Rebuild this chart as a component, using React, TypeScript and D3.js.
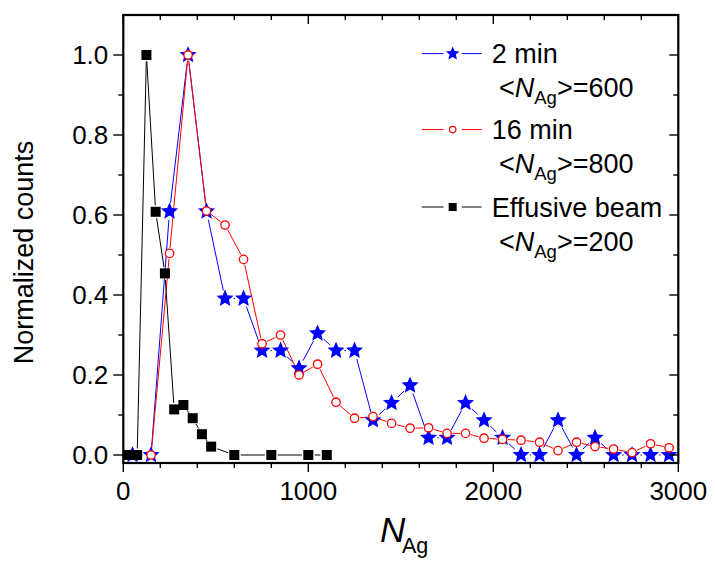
import React from "react";
import * as d3 from "d3";

const W = 715;
const H = 561;

// 2 min (blue stars)
const blueX = [50, 150, 250, 350, 450, 550, 650, 750, 850, 950, 1050, 1150, 1250, 1350, 1450, 1550, 1650, 1750, 1850, 1950, 2050, 2150, 2250, 2350, 2450, 2550, 2650, 2750, 2850, 2950];
const blueY = [0, 0, 0.609, 1.0, 0.609, 0.391, 0.391, 0.261, 0.261, 0.217, 0.304, 0.261, 0.261, 0.087, 0.13, 0.174, 0.043, 0.043, 0.13, 0.087, 0.043, 0, 0, 0.087, 0, 0.043, 0, 0, 0, 0];

// 16 min (red open circles)
const redX = [150, 250, 350, 450, 550, 650, 750, 850, 950, 1050, 1150, 1250, 1350, 1450, 1550, 1650, 1750, 1850, 1950, 2050, 2150, 2250, 2350, 2450, 2550, 2650, 2750, 2850, 2950];
const redY = [0, 0.504, 1.0, 0.61, 0.575, 0.489, 0.278, 0.3, 0.2, 0.227, 0.132, 0.092, 0.096, 0.079, 0.067, 0.068, 0.054, 0.054, 0.042, 0.039, 0.037, 0.032, 0.011, 0.032, 0.021, 0.015, 0.006, 0.028, 0.018];

// Effusive beam (black squares)
const blackX = [25, 75, 125, 175, 225, 275, 325, 375, 425, 475, 600, 800, 1000, 1100];
const blackY = [0, 0, 1.0, 0.608, 0.454, 0.114, 0.125, 0.092, 0.052, 0.021, 0, 0, 0, 0];

const xMajorTicks = [0, 1000, 2000, 3000];
const xMinorTicks = [200, 400, 600, 800, 1200, 1400, 1600, 1800, 2200, 2400, 2600, 2800];
const yMajorTicks = [0, 0.2, 0.4, 0.6, 0.8, 1.0];
const yMinorTicks = [0.1, 0.3, 0.5, 0.7, 0.9];

const legendItems = [
  { label: "2 min", mean: "600", color: "#0000ff", marker: "star" },
  { label: "16 min", mean: "800", color: "#ff0000", marker: "circle" },
  { label: "Effusive beam", mean: "200", color: "#000000", marker: "square" },
];

const FONT = "'Liberation Sans', Arial, Helvetica, sans-serif";

const x = d3.scaleLinear().domain([0, 3000]).range([123.3, 678.3]);
const y = d3.scaleLinear().domain([-0.02, 1.1]).range([463, 15]);

function starPath(cx: number, cy: number, R: number, r: number) {
  const pts: [number, number][] = [];
  for (let i = 0; i < 10; i++) {
    const a = -Math.PI / 2 + (i * Math.PI) / 5;
    const rr = i % 2 === 0 ? R : r;
    pts.push([cx + rr * Math.cos(a), cy + rr * Math.sin(a)]);
  }
  return d3.line()(pts) + "Z";
}

function gappedSegments(xs: number[], ys: number[], gap: number) {
  const segs: string[] = [];
  for (let i = 0; i < xs.length - 1; i++) {
    const x1 = x(xs[i]), y1 = y(ys[i]);
    const x2 = x(xs[i + 1]), y2 = y(ys[i + 1]);
    const dx = x2 - x1, dy = y2 - y1;
    const L = Math.hypot(dx, dy);
    if (L <= 2 * gap + 1) continue;
    const ux = dx / L, uy = dy / L;
    segs.push(
      d3.line()([
        [x1 + ux * gap, y1 + uy * gap],
        [x2 - ux * gap, y2 - uy * gap],
      ]) as string
    );
  }
  return segs;
}

export default function App() {
  const x0 = x(0), x1 = x(3000), yT = y(1.1), yB = y(-0.02);
  const blueSegs = gappedSegments(blueX, blueY, 8.5);
  const redSegs = gappedSegments(redX, redY, 5.5);
  const blackSegs = gappedSegments(blackX, blackY, 6.5);

  const legendTop = [63.3, 139.3, 216.7];

  return (
    <svg
      width={W}
      height={H}
      viewBox={`0 0 ${W} ${H}`}
      style={{ position: "absolute", left: 0, top: 0, background: "#fff" }}
      fontFamily={FONT}
    >
      <rect x={0} y={0} width={W} height={H} fill="#fff" />

      {/* series lines */}
      <g fill="none" strokeWidth={1}>
        {blueSegs.map((d, i) => (
          <path key={"b" + i} d={d} stroke="#0000ff" />
        ))}
        {redSegs.map((d, i) => (
          <path key={"r" + i} d={d} stroke="#ff0000" />
        ))}
        {blackSegs.map((d, i) => (
          <path key={"k" + i} d={d} stroke="#000000" />
        ))}
      </g>

      {/* markers */}
      <g>
        {blueX.map((v, i) => (
          <path key={"bs" + i} d={starPath(x(v), y(blueY[i]), 9, 4.1)} fill="#0000ff" />
        ))}
        {redX.map((v, i) => (
          <circle key={"rc" + i} cx={x(v)} cy={y(redY[i])} r={4.2} fill="#fff" stroke="#ff0000" strokeWidth={1.3} />
        ))}
        {blackX.map((v, i) => (
          <rect key={"ks" + i} x={x(v) - 5} y={y(blackY[i]) - 5} width={10} height={10} fill="#000" />
        ))}
      </g>

      {/* frame */}
      <rect x={x0} y={yT} width={x1 - x0} height={yB - yT} fill="none" stroke="#000" strokeWidth={2.2} />

      {/* ticks */}
      <g stroke="#000" strokeWidth={1.4}>
        {xMajorTicks.map((t) => (
          <g key={"xM" + t}>
            <line x1={x(t)} x2={x(t)} y1={yB} y2={yB + 9} />
            <line x1={x(t)} x2={x(t)} y1={yT} y2={yT + 9} />
          </g>
        ))}
        {xMinorTicks.map((t) => (
          <g key={"xm" + t}>
            <line x1={x(t)} x2={x(t)} y1={yB} y2={yB + 5} />
            <line x1={x(t)} x2={x(t)} y1={yT} y2={yT + 5} />
          </g>
        ))}
        {yMajorTicks.map((t) => (
          <g key={"yM" + t}>
            <line x1={x0} x2={x0 - 10} y1={y(t)} y2={y(t)} />
            <line x1={x1} x2={x1 - 9} y1={y(t)} y2={y(t)} />
          </g>
        ))}
        {yMinorTicks.map((t) => (
          <g key={"ym" + t}>
            <line x1={x0} x2={x0 - 5} y1={y(t)} y2={y(t)} />
            <line x1={x1} x2={x1 - 5} y1={y(t)} y2={y(t)} />
          </g>
        ))}
      </g>

      {/* tick labels */}
      <g fontSize={26} fill="#000">
        {xMajorTicks.map((t) => (
          <text key={"xl" + t} x={x(t)} y={500} textAnchor="middle">
            {d3.format("d")(t)}
          </text>
        ))}
        {yMajorTicks.map((t) => (
          <text key={"yl" + t} x={x0 - 15} y={y(t) + 9} textAnchor="end">
            {d3.format(".1f")(t)}
          </text>
        ))}
      </g>

      {/* axis titles */}
      <text x={380} y={541.7} fontSize={35} fontStyle="italic">
        N
      </text>
      <text x={402} y={553} fontSize={21.5}>
        Ag
      </text>
      <text transform={`translate(33,252.5) rotate(-90)`} textAnchor="middle" fontSize={27}>
        Normalized counts
      </text>

      {/* legend */}
      {legendItems.map((item, i) => {
        const base = legendTop[i];
        const ly = base - 9.7;
        const mx = 452.7;
        return (
          <g key={"lg" + i}>
            <line x1={421.7} x2={443.5} y1={ly} y2={ly} stroke={item.color} strokeWidth={1} />
            <line x1={461.7} x2={481.7} y1={ly} y2={ly} stroke={item.color} strokeWidth={1} />
            {item.marker === "star" && <path d={starPath(mx, ly, 7.2, 3.3)} fill={item.color} />}
            {item.marker === "circle" && (
              <circle cx={mx} cy={ly} r={3.2} fill="#fff" stroke={item.color} strokeWidth={1.2} />
            )}
            {item.marker === "square" && <rect x={mx - 4} y={ly - 4} width={8} height={8} fill={item.color} />}
            <text x={491.7} y={base} fontSize={27}>
              {item.label}
            </text>
            <text x={499} y={base + 34} fontSize={27}>
              {"<"}
              <tspan fontStyle="italic">N</tspan>
              <tspan fontSize={18.5} dy={7}>
                Ag
              </tspan>
              <tspan dy={-7}>{">=" + item.mean}</tspan>
            </text>
          </g>
        );
      })}
    </svg>
  );
}
